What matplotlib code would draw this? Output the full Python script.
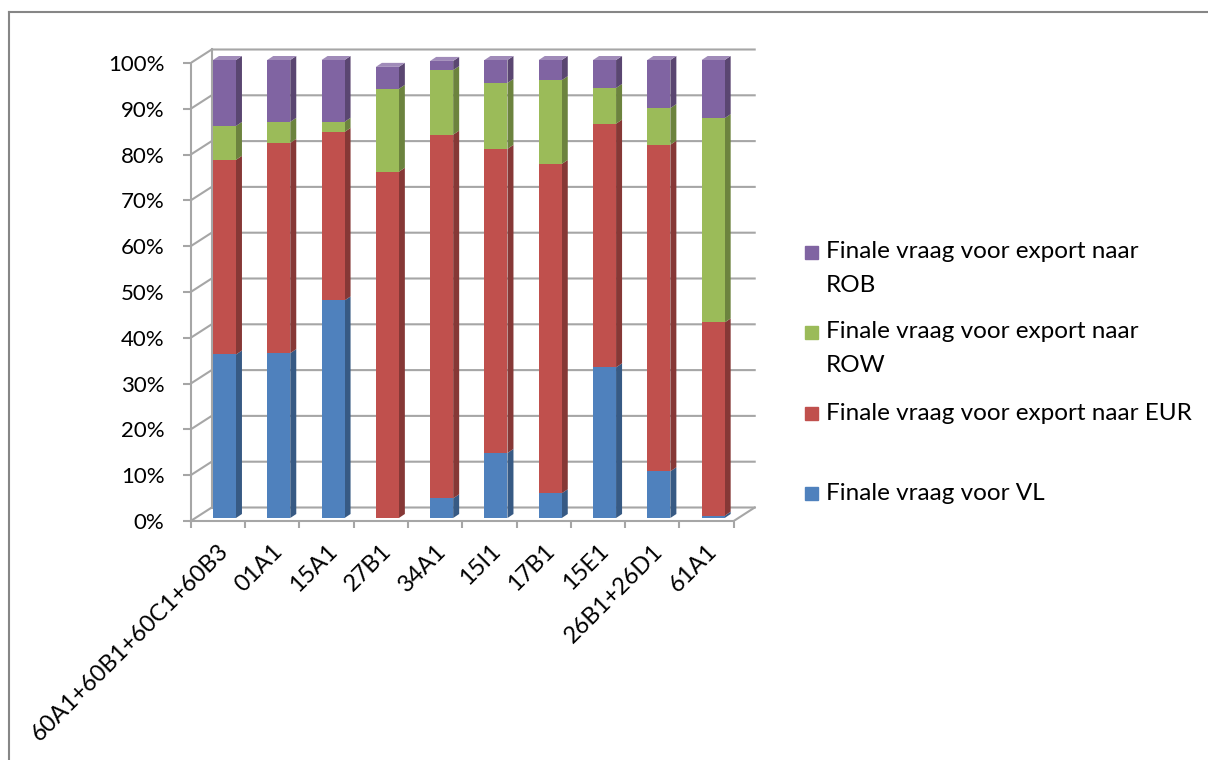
import numpy as np
import matplotlib.pyplot as plt
from matplotlib.patches import Polygon, Rectangle
from matplotlib.lines import Line2D
from matplotlib.colors import to_rgb

plt.rcParams['font.family'] = ['Lato', 'DejaVu Sans']

categories = ['60A1+60B1+60C1+60B3', '01A1', '15A1', '27B1', '34A1',
              '15I1', '17B1', '15E1', '26B1+26D1', '61A1']
vl = [35.7, 36.0, 47.5, 0.0, 4.3, 14.2, 5.4, 32.9, 10.2, 0.5]
eur = [42.5, 45.9, 36.8, 75.6, 79.4, 66.4, 71.9, 53.2, 71.3, 42.2]
row = [7.4, 4.6, 2.2, 18.1, 14.1, 14.4, 18.3, 7.8, 8.0, 44.6]
rob = [14.4, 13.5, 13.5, 4.8, 2.0, 5.0, 4.4, 6.1, 10.5, 12.7]
series = [vl, eur, row, rob]
names = ['Finale vraag voor VL',
         'Finale vraag voor export naar EUR',
         'Finale vraag voor export naar ROW',
         'Finale vraag voor export naar ROB']
colors = ['#4F81BD', '#C0504D', '#9BBB59', '#8064A2']
yticks = list(range(0, 101, 10))

W, H = 1208, 760
grid = '#A6A6A6'

fig = plt.figure(figsize=(W / 100, H / 100), dpi=100)

# front plane of the 3d box: 0..10 categories, 0..100 %
px_x, px_y = 54.3, 4.58
x_max, y_max = 10.6, 105
ax = fig.add_axes([190.7 / W, (H - 521) / H, x_max * px_x / W, y_max * px_y / H])
ax.set_xlim(0, x_max)
ax.set_ylim(0, y_max)
ax.patch.set_visible(False)

# depth of the walls and of the bars
DX, DY = 21 / px_x, 13.5 / px_y
BX, BY = 0.41, 3 / px_y
BW = 23 / px_x
SDX, SDY = 6 / px_x, 4 / px_y

# walls
for v in yticks:
    ax.plot([0, DX, 10 + DX], [v, v + DY, v + DY], color=grid, lw=1.5, zorder=1)
ax.plot([DX, DX], [DY, 100 + DY], color=grid, lw=1.5, zorder=1)
ax.plot([10, 10 + DX], [0, DY], color=grid, lw=1.5, zorder=1)

for side in ['top', 'right']:
    ax.spines[side].set_visible(False)
for side in ['left', 'bottom']:
    ax.spines[side].set_color(grid)
    ax.spines[side].set_linewidth(1.5)
ax.spines['left'].set_bounds(0, 100)
ax.spines['bottom'].set_bounds(0, 10)


def shade(c, f):
    r, g, b = to_rgb(c)
    if f < 1:
        return (r * f, g * f, b * f)
    return (r + (1 - r) * (f - 1), g + (1 - g) * (f - 1), b + (1 - b) * (f - 1))


x = np.arange(len(categories)) + BX
bottom = np.zeros(len(categories))
for vals, c in zip(series, colors):
    vals = np.array(vals)
    bars = ax.bar(x, vals, width=BW, bottom=bottom + BY, align='edge',
                  color=c, zorder=4, linewidth=0)
    for b in bars:
        x1 = b.get_x() + b.get_width()
        y0 = b.get_y()
        y1 = y0 + b.get_height()
        if b.get_height() <= 0:
            continue
        ax.add_patch(Polygon([(x1, y0), (x1 + SDX, y0 + SDY), (x1 + SDX, y1 + SDY), (x1, y1)],
                             closed=True, color=shade(c, 0.7), lw=0, zorder=3))
    bottom = bottom + vals

# top faces
for i, b in enumerate(bars):
    x0 = b.get_x()
    x1 = x0 + b.get_width()
    t = b.get_y() + b.get_height()
    ax.add_patch(Polygon([(x0, t), (x1, t), (x1 + SDX, t + SDY), (x0 + SDX, t + SDY)],
                         closed=True, color=shade(colors[-1], 1.25), lw=0, zorder=5))

ax.set_yticks(yticks)
ax.set_yticklabels([f'{v}%' for v in yticks], fontsize=16)
ax.tick_params(axis='y', length=5.8, width=1.5, color=grid, pad=13)
ax.set_xticks(range(11))
ax.set_xticklabels([])
ax.tick_params(axis='x', which='major', length=5, width=1.5, color=grid)
ax.set_xticks(np.arange(len(categories)) + 0.5, minor=True)
ax.set_xticklabels(categories, minor=True, rotation=45, ha='right',
                   rotation_mode='anchor', fontsize=17)
ax.tick_params(axis='x', which='minor', length=0, pad=14)

# legend
leg = [(3, 252, ['Finale vraag voor export naar', 'ROB']),
       (2, 332, ['Finale vraag voor export naar', 'ROW']),
       (1, 413, ['Finale vraag voor export naar EUR']),
       (0, 493, ['Finale vraag voor VL'])]
for k, y, lines in leg:
    fig.patches.append(Rectangle((805 / W, (H - y - 6.5) / H), 13 / W, 13 / H,
                                 transform=fig.transFigure, color=colors[k]))
    for j, line in enumerate(lines):
        fig.text(826 / W, (H - y - 33 * j) / H, line, fontsize=17.5, va='center', ha='left')

# chart border
fig.add_artist(Line2D([9 / W, 9 / W], [0, (H - 12) / H], color='#868686', lw=1.5))
fig.add_artist(Line2D([9 / W, 1], [(H - 12) / H, (H - 12) / H], color='#868686', lw=1.5))

fig.savefig('out.png', dpi=100)
